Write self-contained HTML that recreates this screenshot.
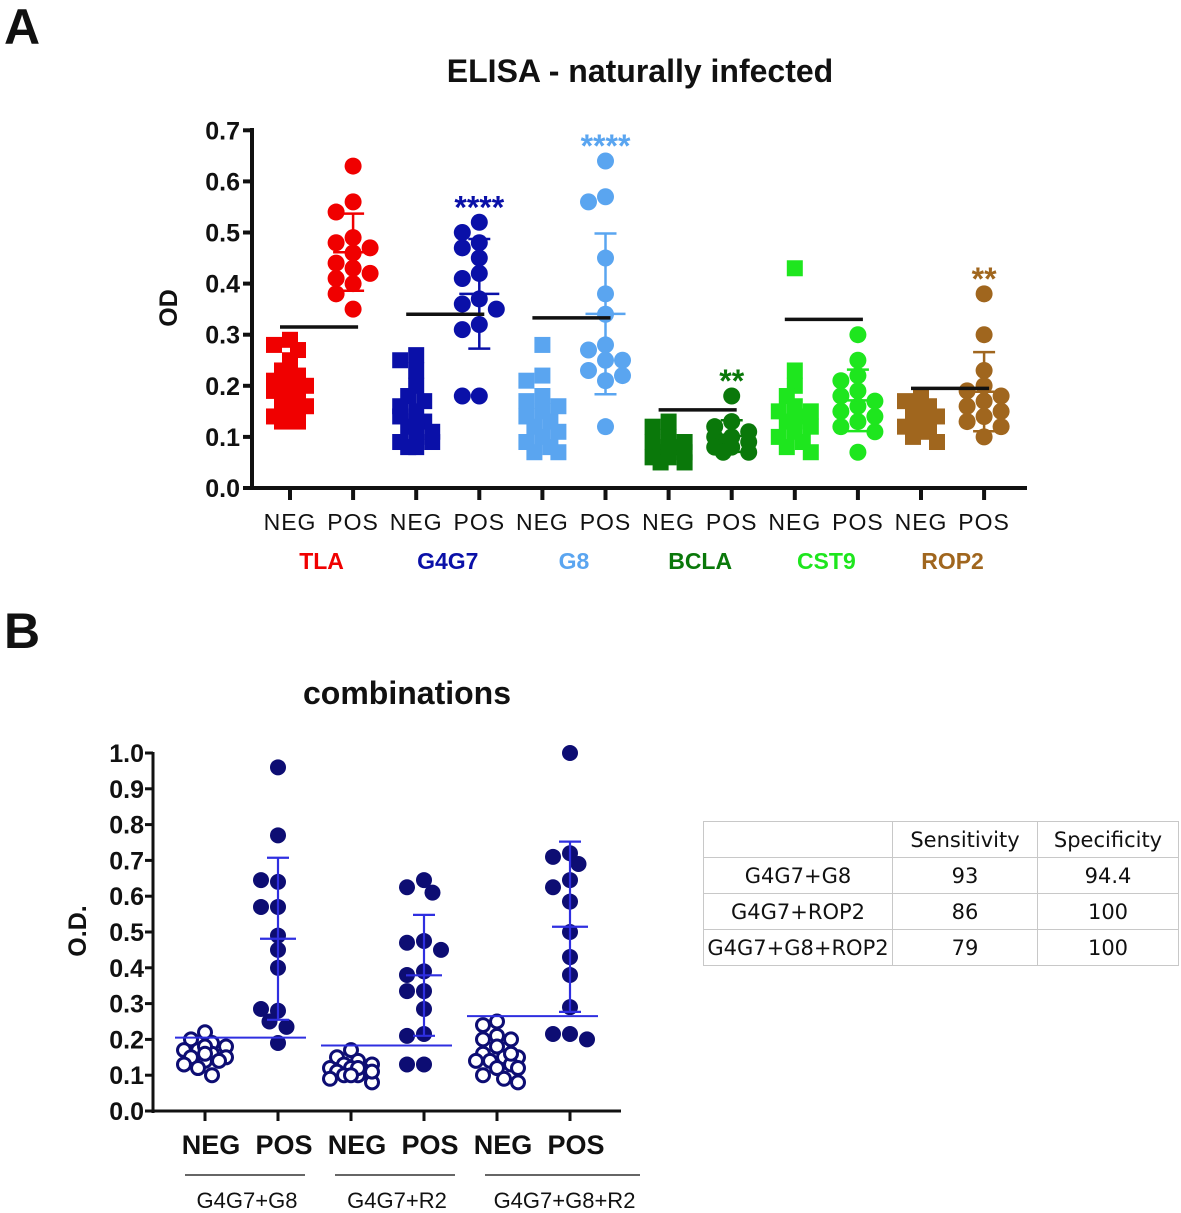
<!DOCTYPE html>
<html><head><meta charset="utf-8">
<style>
body{margin:0;background:#fff;width:1181px;height:1213px;overflow:hidden;font-family:"Liberation Sans",sans-serif}
svg{position:absolute;left:0;top:0}
table{position:absolute;left:703px;top:821px;border-collapse:collapse;font-family:"DejaVu Sans","Liberation Sans",sans-serif;font-size:21px;color:#111}
td{border:1.5px solid #c8c8c8;text-align:center;height:35px;padding:0}
</style></head>
<body>
<svg id="chart" width="1181" height="1213"></svg>
<table>
<tr><td style="width:188px"></td><td style="width:144px">Sensitivity</td><td style="width:140px">Specificity</td></tr>
<tr><td>G4G7+G8</td><td>93</td><td>94.4</td></tr>
<tr><td>G4G7+ROP2</td><td>86</td><td>100</td></tr>
<tr><td>G4G7+G8+ROP2</td><td>79</td><td>100</td></tr>
</table>
<script>
// Panel A data
const antigens = ["TLA","G4G7","G8","BCLA","CST9","ROP2"];
const antigenColors = ["#f00000","#0a10a8","#5aa5f0","#0a780a","#1ee61e","#a0661e"];
const negTLA = [0.29,0.28,0.27,0.25,0.23,0.22,0.21,0.20,0.20,0.19,0.18,0.17,0.16,0.15,0.14,0.13,0.13,0.19,0.21,0.17];
const posTLA = [0.63,0.56,0.54,0.49,0.48,0.47,0.46,0.44,0.43,0.42,0.41,0.40,0.38,0.35];
const negG4G7 = [0.26,0.25,0.23,0.20,0.18,0.17,0.15,0.14,0.13,0.12,0.10,0.09,0.09,0.08,0.08,0.16,0.13,0.11];
const posG4G7 = [0.52,0.50,0.48,0.47,0.45,0.42,0.41,0.37,0.36,0.35,0.32,0.31,0.18,0.18];
const negG8 = [0.28,0.22,0.21,0.18,0.17,0.15,0.14,0.13,0.12,0.11,0.10,0.09,0.08,0.07,0.07,0.16];
const posG8 = [0.64,0.57,0.56,0.45,0.38,0.34,0.28,0.27,0.25,0.25,0.23,0.21,0.22,0.12];
const negBCLA = [0.13,0.12,0.10,0.09,0.08,0.07,0.07,0.06,0.06,0.05,0.05,0.08,0.09];
const posBCLA = [0.18,0.13,0.12,0.11,0.10,0.10,0.09,0.09,0.08,0.08,0.07,0.07];
const negCST9 = [0.43,0.23,0.20,0.18,0.16,0.15,0.14,0.13,0.12,0.11,0.10,0.09,0.08,0.07,0.13,0.15];
const posCST9 = [0.30,0.25,0.22,0.21,0.19,0.18,0.17,0.16,0.15,0.14,0.13,0.12,0.11,0.07];
const negROP2 = [0.18,0.17,0.16,0.15,0.14,0.13,0.12,0.11,0.10,0.09,0.15,0.13];
const posROP2 = [0.38,0.30,0.23,0.20,0.19,0.18,0.17,0.16,0.15,0.14,0.13,0.12,0.10];
const cutoffsA = [0.315,0.34,0.333,0.153,0.33,0.195];
const starsA = ["","****","****","**","","**"];
const yTicksA = ["0.0","0.1","0.2","0.3","0.4","0.5","0.6","0.7"];
// Panel B data
const combos = ["G4G7+G8","G4G7+R2","G4G7+G8+R2"];
const negC1 = [0.22,0.20,0.19,0.18,0.17,0.17,0.16,0.15,0.15,0.14,0.14,0.13,0.12,0.10,0.18,0.16];
const posC1 = [0.96,0.77,0.64,0.645,0.57,0.57,0.49,0.45,0.40,0.28,0.285,0.25,0.235,0.19];
const negC2 = [0.17,0.15,0.14,0.13,0.13,0.12,0.12,0.11,0.11,0.10,0.10,0.09,0.08,0.12,0.11,0.10];
const posC2 = [0.645,0.625,0.61,0.475,0.47,0.45,0.39,0.38,0.335,0.335,0.285,0.215,0.21,0.13,0.13];
const negC3 = [0.25,0.24,0.21,0.20,0.20,0.18,0.16,0.15,0.15,0.14,0.14,0.13,0.12,0.10,0.09,0.08,0.16,0.12];
const posC3 = [1.0,0.72,0.71,0.69,0.645,0.625,0.585,0.5,0.43,0.38,0.29,0.215,0.215,0.20];
const cutoffsB = [0.205,0.183,0.265];
const yTicksB = ["0.0","0.1","0.2","0.3","0.4","0.5","0.6","0.7","0.8","0.9","1.0"];

const NS="http://www.w3.org/2000/svg";
const svg=document.getElementById('chart');
function mk(tag,attrs,parent){const e=document.createElementNS(NS,tag);for(const k in attrs)e.setAttribute(k,attrs[k]);(parent||svg).appendChild(e);return e;}
function txt(s,attrs,parent){const e=mk('text',attrs,parent);e.textContent=s;return e;}
function stats(a){const m=a.reduce((s,v)=>s+v,0)/a.length;const sd=Math.sqrt(a.reduce((s,v)=>s+(v-m)*(v-m),0)/(a.length-1));return [m,sd];}
// capped beeswarm placement: returns x offsets
function swarm(vals,yfn,diam,cap){
  const placed=[];const out=[];const s=diam*0.5;
  const cands=[];for(let k=0;k<30;k++){const o=(k%2?-1:1)*Math.ceil(k/2)*s;if(Math.abs(o)<=cap)cands.push(o);}
  vals.forEach(v=>{const y=yfn(v);let best=0,bestD=-1;
    for(const o of cands){const d=placed.length?Math.min(...placed.map(p=>Math.hypot(p[0]-o,p[1]-y))):1e9;
      if(d>=diam*0.8){best=o;bestD=1e9;break;}
      if(d>bestD){bestD=d;best=o;}}
    placed.push([best,y]);out.push(best);});
  return out;}

const lA=txt("A",{x:4,y:44,'font-size':50,'font-weight':'bold',fill:'#111'});


const lB=txt("B",{x:4,y:648,'font-size':50,'font-weight':'bold',fill:'#111'});



// ===== Panel A =====
const ay0=488, ayPer=51.1, ax0=252;
const yA=v=>ay0-v*10*ayPer;
const xA=i=>290+i*63.1;
const tA=txt("ELISA - naturally infected",{x:640,y:82,'font-size':32,'font-weight':'bold','text-anchor':'middle',fill:'#111'});


const gA=mk('g',{});


mk('line',{x1:ax0,y1:128,x2:ax0,y2:ay0+2,stroke:'#111','stroke-width':4},gA);
mk('line',{x1:ax0-2,y1:ay0,x2:1027,y2:ay0,stroke:'#111','stroke-width':4},gA);
yTicksA.forEach((t)=>{const v=parseFloat(t);mk('line',{x1:ax0-9,y1:yA(v),x2:ax0,y2:yA(v),stroke:'#111','stroke-width':4},gA);
  const e=txt(t,{x:ax0-12,y:yA(v)+9,'font-size':25,'font-weight':'bold','text-anchor':'end',fill:'#111'},gA);
  
  });
const ylA=txt("OD",{x:0,y:0,'font-size':25,'font-weight':'bold','text-anchor':'middle',fill:'#111',transform:'translate(177,308) rotate(-90)'});


for(let i=0;i<12;i++){mk('line',{x1:xA(i),y1:ay0,x2:xA(i),y2:ay0+12,stroke:'#111','stroke-width':4},gA);
  const e=txt(i%2?"POS":"NEG",{x:xA(i),y:530,'font-size':23,'text-anchor':'middle',fill:'#111','letter-spacing':'1'},gA);
  
  }
const negA=[negTLA,negG4G7,negG8,negBCLA,negCST9,negROP2];
const posA=[posTLA,posG4G7,posG8,posBCLA,posCST9,posROP2];
antigens.forEach((name,g)=>{
  const col=antigenColors[g];
  const gl=txt(name,{x:(xA(2*g)+xA(2*g+1))/2,y:569,'font-size':23,'font-weight':'bold','text-anchor':'middle',fill:col});
  
  
  const ng=mk('g',{fill:col});
  
  
  const nOff=swarm(negA[g],yA,16,20);
  negA[g].forEach((v,k)=>{const r=mk('rect',{x:xA(2*g)+nOff[k]-8,y:yA(v)-8,width:16,height:16},ng);
    
    });
  const pg=mk('g',{fill:col});
  
  
  const pOff=swarm(posA[g],yA,17,18);
  posA[g].forEach((v,k)=>{const c=mk('circle',{cx:xA(2*g+1)+pOff[k],cy:yA(v),r:8.5},pg);
    
    });
  const [pm,psd]=stats(posA[g]);const px=xA(2*g+1);
  const eb=mk('g',{stroke:col,'stroke-width':2.5});
  
  
  mk('line',{x1:px,x2:px,y1:yA(pm+psd),y2:yA(pm-psd)},eb);
  mk('line',{x1:px-11,x2:px+11,y1:yA(pm+psd),y2:yA(pm+psd)},eb);
  mk('line',{x1:px-11,x2:px+11,y1:yA(pm-psd),y2:yA(pm-psd)},eb);
  mk('line',{x1:px-20,x2:px+20,y1:yA(pm),y2:yA(pm)},eb);
  const cl=mk('line',{x1:xA(2*g)-10,x2:xA(2*g+1)+5,y1:yA(cutoffsA[g]),y2:yA(cutoffsA[g]),stroke:'#111','stroke-width':3.5});
  
  
  if(starsA[g]){const top=Math.max(...posA[g]);
    const s=txt(starsA[g],{x:px,y:yA(top)-4,'font-size':32,'font-weight':'bold','text-anchor':'middle',fill:col});
    
    }
});

// ===== Panel B =====
const by0=1111, byPer=35.8, bx0=153;
const yB=v=>by0-v*10*byPer;
const xB=i=>205+i*73;
const tB=txt("combinations",{x:407,y:704,'font-size':32,'font-weight':'bold','text-anchor':'middle',fill:'#111'});


const gB=mk('g',{});


mk('line',{x1:bx0,y1:752,x2:bx0,y2:by0+2,stroke:'#111','stroke-width':3},gB);
mk('line',{x1:bx0-2,y1:by0,x2:621,y2:by0,stroke:'#111','stroke-width':3},gB);
yTicksB.forEach(t=>{const v=parseFloat(t);mk('line',{x1:bx0-8,y1:yB(v),x2:bx0,y2:yB(v),stroke:'#111','stroke-width':3},gB);
  const e=txt(t,{x:bx0-9,y:yB(v)+9,'font-size':25,'font-weight':'bold','text-anchor':'end',fill:'#111'},gB);
  
  });
const ylB=txt("O.D.",{x:0,y:0,'font-size':25,'font-weight':'bold','text-anchor':'middle',fill:'#111',transform:'translate(86,931) rotate(-90)'});


for(let i=0;i<6;i++){mk('line',{x1:xB(i),y1:by0,x2:xB(i),y2:by0+10,stroke:'#111','stroke-width':3},gB);
  const e=txt(i%2?"POS":"NEG",{x:xB(i)+6,y:1154,'font-size':27,'font-weight':'bold','text-anchor':'middle',fill:'#111'},gB);
  
  }
const negB=[negC1,negC2,negC3], posB=[posC1,posC2,posC3];
const navy="#0d0d73", lineBlue="#2f2fe0";
const ulX=[[185,305],[335,455],[485,640]];
combos.forEach((name,g)=>{
  const ul=mk('line',{x1:ulX[g][0],x2:ulX[g][1],y1:1175,y2:1175,stroke:'#333','stroke-width':1.5});
  
  
  const gl=txt(name,{x:(ulX[g][0]+ulX[g][1])/2+2,y:1208,'font-size':22,'text-anchor':'middle',fill:'#111'});
  
  
  const ng=mk('g',{fill:'#fff',stroke:navy,'stroke-width':3});
  
  
  const nOff=swarm(negB[g],yB,14,22);
  negB[g].forEach((v,k)=>{const c=mk('circle',{cx:xB(2*g)+nOff[k],cy:yB(v),r:6.5},ng);
    
    });
  const pg=mk('g',{fill:navy});
  
  
  const pOff=swarm(posB[g],yB,17,18);
  posB[g].forEach((v,k)=>{const c=mk('circle',{cx:xB(2*g+1)+pOff[k],cy:yB(v),r:8},pg);
    
    });
  const [pm,psd]=stats(posB[g]);const px=xB(2*g+1);
  const eb=mk('g',{stroke:lineBlue,'stroke-width':2.2});
  
  
  mk('line',{x1:px,x2:px,y1:yB(pm+psd),y2:yB(pm-psd)},eb);
  mk('line',{x1:px-11,x2:px+11,y1:yB(pm+psd),y2:yB(pm+psd)},eb);
  mk('line',{x1:px-11,x2:px+11,y1:yB(pm-psd),y2:yB(pm-psd)},eb);
  mk('line',{x1:px-18,x2:px+18,y1:yB(pm),y2:yB(pm)},eb);
  const cl=mk('line',{x1:xB(2*g)-30,x2:xB(2*g+1)+28,y1:yB(cutoffsB[g]),y2:yB(cutoffsB[g]),stroke:lineBlue,'stroke-width':2});
  
  
});
</script>
</body></html>
